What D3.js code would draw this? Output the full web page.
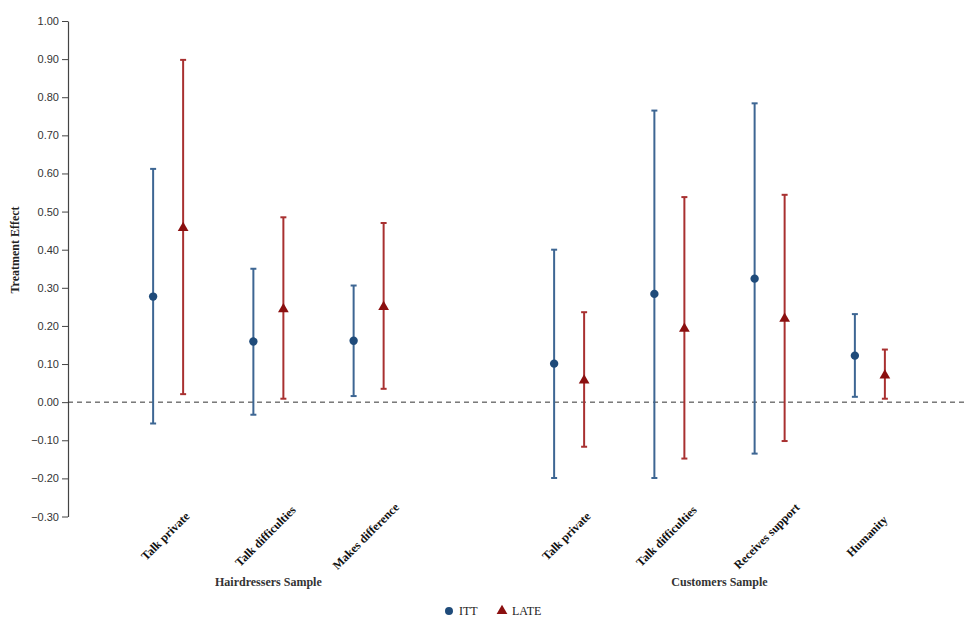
<!DOCTYPE html>
<html>
<head>
<meta charset="utf-8">
<script src="https://cdn.jsdelivr.net/npm/d3@7"></script>
<style>
  body { margin: 0; background: #fff; }
  svg { display: block; }
</style>
</head>
<body>
<svg id="chart" width="975" height="628"></svg>
<script>
// ---- data ----
const slots = ["h1", "h2", "h3", "gap", "c1", "c2", "c3", "c4"];
const categories = ["Talk private", "Talk difficulties", "Makes difference", "", "Talk private", "Talk difficulties", "Receives support", "Humanity"];
const groups = [
  { name: "Hairdressers Sample", slots: ["h1", "h2", "h3"] },
  { name: "Customers Sample", slots: ["c1", "c2", "c3", "c4"] }
];
const ittSlots = ["h1", "h2", "h3", "c1", "c2", "c3", "c4"];
const ittEst   = [0.277, 0.159, 0.161, 0.101, 0.284, 0.324, 0.122];
const ittLow   = [-0.056, -0.033, 0.016, -0.199, -0.199, -0.135, 0.014];
const ittHigh  = [0.612, 0.350, 0.306, 0.400, 0.765, 0.784, 0.231];
const lateEst  = [0.457, 0.244, 0.250, 0.057, 0.193, 0.219, 0.070];
const lateLow  = [0.021, 0.009, 0.035, -0.117, -0.148, -0.102, 0.009];
const lateHigh = [0.898, 0.485, 0.470, 0.236, 0.538, 0.544, 0.138];
const yTicks = [-0.3, -0.2, -0.1, 0, 0.1, 0.2, 0.3, 0.4, 0.5, 0.6, 0.7, 0.8, 0.9, 1.0];
const seriesNames = ["ITT", "LATE"];

// ---- styles ----
const blueLine = "#3d6693", bluePt = "#1f4b7a";
const redLine = "#a83030", redPt = "#8b1010";

const svg = d3.select("#chart");
const x = d3.scaleBand().domain(slots).range([118, 920]).padding(0);
const y = d3.scaleLinear().domain([-0.3, 1.0]).range([516.5, 21]);
const xc = s => x(s) + x.bandwidth() / 2;
const off = 15;

// y axis
const yAxis = svg.append("g")
  .attr("transform", "translate(68,0)")
  .call(d3.axisLeft(y).tickValues(yTicks).tickSize(6).tickSizeOuter(0)
    .tickFormat(d => d3.format(".2f")(d).replace("-", "\u2212")));
yAxis.select(".domain").attr("stroke", "#444").attr("stroke-width", 1.2);
yAxis.selectAll(".tick line").attr("stroke", "#444");
yAxis.selectAll(".tick text")
  .attr("fill", "#333")
  .style("font-family", "'Liberation Sans', Arial, sans-serif")
  .style("font-size", "11px");

svg.append("text")
  .attr("transform", "translate(19,250) rotate(-90)")
  .attr("text-anchor", "middle")
  .style("font-family", "'Liberation Serif', 'Times New Roman', serif")
  .style("font-weight", "bold")
  .style("font-size", "12px")
  .attr("fill", "#222")
  .text("Treatment Effect");

// zero line
svg.append("line")
  .attr("x1", 68).attr("x2", 965)
  .attr("y1", y(0)).attr("y2", y(0))
  .attr("stroke", "#333").attr("stroke-width", 1)
  .attr("stroke-dasharray", "5,4");

// x category labels
svg.append("g").selectAll("text")
  .data(slots.map((s, i) => ({ s, label: categories[i] })).filter(d => d.label))
  .join("text")
  .attr("transform", d => `translate(${xc(d.s)},539) rotate(-45)`)
  .attr("text-anchor", "middle")
  .style("font-family", "'Liberation Serif', 'Times New Roman', serif")
  .style("font-weight", "bold")
  .style("font-size", "12px")
  .attr("fill", "#111")
  .text(d => d.label);

// group labels
svg.append("g").selectAll("text")
  .data(groups)
  .join("text")
  .attr("x", g => (xc(g.slots[0]) + xc(g.slots[g.slots.length - 1])) / 2)
  .attr("y", 586)
  .attr("text-anchor", "middle")
  .style("font-family", "'Liberation Serif', 'Times New Roman', serif")
  .style("font-weight", "bold")
  .style("font-size", "12px")
  .attr("fill", "#333")
  .text(g => g.name);

function drawSeries(est, low, high, dx, lineColor, ptColor, symbol) {
  const data = ittSlots.map((s, i) => ({ s, est: est[i], low: low[i], high: high[i] }));
  const g = svg.append("g");
  g.selectAll("line.bar").data(data).join("line")
    .attr("class", "bar")
    .attr("x1", d => xc(d.s) + dx).attr("x2", d => xc(d.s) + dx)
    .attr("y1", d => y(d.low)).attr("y2", d => y(d.high))
    .attr("stroke", lineColor).attr("stroke-width", 2);
  ["low", "high"].forEach(k => {
    g.selectAll("line.cap" + k).data(data).join("line")
      .attr("class", "cap" + k)
      .attr("x1", d => xc(d.s) + dx - 3).attr("x2", d => xc(d.s) + dx + 3)
      .attr("y1", d => y(d[k])).attr("y2", d => y(d[k]))
      .attr("stroke", lineColor).attr("stroke-width", 2);
  });
  g.selectAll("path.pt").data(data).join("path")
    .attr("class", "pt")
    .attr("transform", d => `translate(${xc(d.s) + dx},${y(d.est)})`)
    .attr("d", d3.symbol().type(symbol).size(symbol === d3.symbolCircle ? 55 : 50))
    .attr("fill", ptColor);
}
drawSeries(ittEst, ittLow, ittHigh, -off, blueLine, bluePt, d3.symbolCircle);
drawSeries(lateEst, lateLow, lateHigh, off, redLine, redPt, d3.symbolTriangle);

// legend
const legend = svg.append("g");
const legItems = [
  { name: seriesNames[0], sym: d3.symbolCircle, color: bluePt, x: 449 },
  { name: seriesNames[1], sym: d3.symbolTriangle, color: redPt, x: 502 }
];
legItems.forEach(it => {
  legend.append("path")
    .attr("transform", `translate(${it.x},611)`)
    .attr("d", d3.symbol().type(it.sym).size(50))
    .attr("fill", it.color);
  legend.append("text")
    .attr("x", it.x + 10).attr("y", 615)
    .style("font-family", "'Liberation Serif', 'Times New Roman', serif")
    .style("font-size", "12px")
    .attr("fill", "#222")
    .text(it.name);
});
</script>
</body>
</html>
